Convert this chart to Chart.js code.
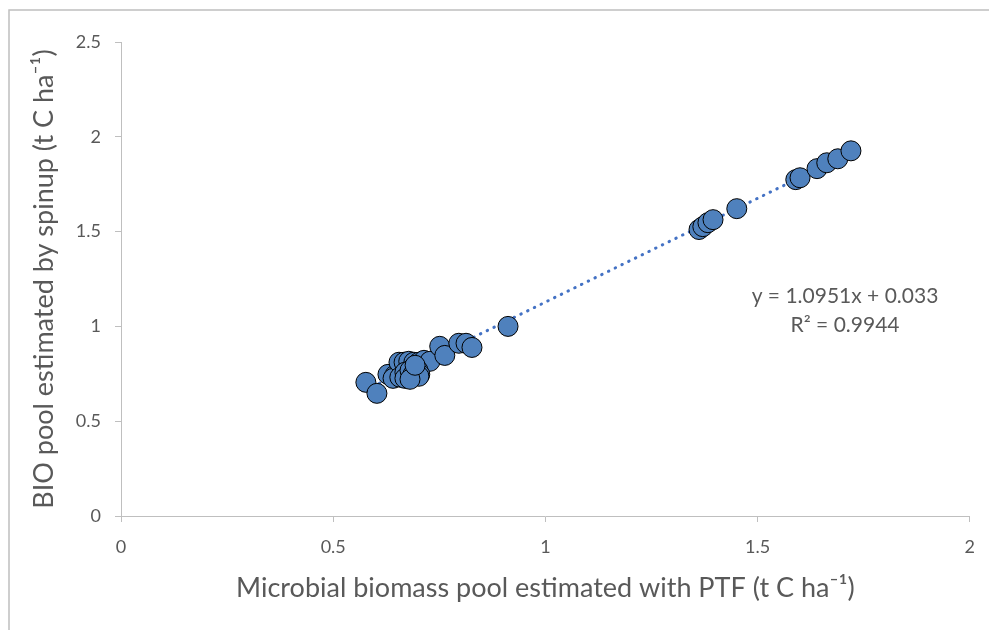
<!DOCTYPE html>
<html>
<head>
<meta charset="utf-8">
<script src="https://cdn.jsdelivr.net/npm/chart.js@4/dist/chart.umd.min.js"></script>
<style>
  html, body { margin: 0; padding: 0; background: #fff; }
  #wrap { width: 989px; height: 630px; position: relative; }
</style>
</head>
<body>
<div id="wrap"><canvas id="bioChart" width="989" height="630"></canvas></div>
<script>
// microbial biomass from PTF (x) vs BIO pool from spinup (y), t C ha-1
const ptfValues = [
    0.577, 0.603, 0.629, 0.645, 0.641, 0.655, 0.667, 0.678, 0.690, 0.702,
    0.714, 0.728, 0.657, 0.669, 0.669, 0.681, 0.688, 0.700, 0.704, 0.702,
    0.681, 0.693, 0.751, 0.763, 0.796, 0.813, 0.827, 0.912,
    1.362, 1.371, 1.383, 1.395, 1.451, 1.590, 1.600, 1.640, 1.663, 1.689, 1.720
];
const spinupValues = [
    0.705, 0.647, 0.747, 0.742, 0.726, 0.811, 0.811, 0.816, 0.811, 0.811,
    0.821, 0.816, 0.732, 0.758, 0.726, 0.768, 0.747, 0.768, 0.747, 0.737,
    0.721, 0.795, 0.895, 0.847, 0.911, 0.911, 0.889, 1.000,
    1.511, 1.526, 1.547, 1.563, 1.621, 1.774, 1.784, 1.832, 1.863, 1.884, 1.926
];
const xTicks = [0, 0.5, 1, 1.5, 2];
const yTicks = [0, 0.5, 1, 1.5, 2, 2.5];

// linear trendline
const slope = 1.0951;
const intercept = 0.033;
const rSquared = 0.9944;

const points = ptfValues.map((x, i) => ({ x: x, y: spinupValues[i] }));
const xMin = Math.min(...ptfValues);
const xMax = Math.max(...ptfValues);
const trend = [
    { x: xMin, y: slope * xMin + intercept },
    { x: xMax, y: slope * xMax + intercept }
];

const fontFamily = "Lato, 'Open Sans', sans-serif";
const textColor = "#595959";
const axisColor = "#bfbfbf";

// outer frame + regression label
const extrasPlugin = {
    id: "extras",
    beforeDraw: function (chart) {
        const ctx = chart.ctx;
        ctx.save();
        ctx.fillStyle = "#fff";
        ctx.fillRect(0, 0, chart.width, chart.height);
        ctx.strokeStyle = "#bfbfbf";
        ctx.lineWidth = 1.5;
        ctx.strokeRect(9, 10, chart.width + 20, chart.height + 20);
        ctx.restore();
    },
    afterDraw: function (chart) {
        const ctx = chart.ctx;
        const xs = chart.scales.x, ys = chart.scales.y;
        ctx.save();
        ctx.fillStyle = textColor;
        ctx.font = "21px " + fontFamily;
        ctx.textAlign = "center";
        ctx.textBaseline = "middle";
        const cx = xs.getPixelForValue(1.706);
        ctx.fillText("y = " + slope.toFixed(4) + "x + " + intercept.toFixed(3), cx, ys.getPixelForValue(1.157));
        ctx.fillText("R\u00B2 = " + rSquared.toFixed(4), cx, ys.getPixelForValue(1.004));
        ctx.restore();
    }
};

new Chart(document.getElementById("bioChart"), {
    type: "scatter",
    data: {
        datasets: [
            {
                label: "Trendline",
                type: "line",
                data: trend,
                borderColor: "#4472c4",
                borderWidth: 3,
                borderDash: [0.5, 7],
                borderCapStyle: "round",
                pointRadius: 0,
                fill: false,
                order: 2
            },
            {
                label: "BIO",
                data: points,
                backgroundColor: "#4f81bd",
                borderColor: "#000",
                borderWidth: 1,
                pointRadius: 10,
                pointHoverRadius: 10,
                order: 1
            }
        ]
    },
    options: {
        responsive: false,
        animation: false,
        layout: { padding: { left: 0, right: 11, top: 42, bottom: 0 } },
        plugins: {
            legend: { display: false },
            tooltip: { enabled: false }
        },
        scales: {
            x: {
                type: "linear",
                min: 0,
                max: 2,
                afterBuildTicks: (s) => { s.ticks = xTicks.map(v => ({ value: v })); },
                afterFit: (s) => { s.height = 114; },
                border: { color: axisColor, width: 1 },
                grid: { drawOnChartArea: false, drawTicks: true, tickLength: 6, color: axisColor },
                ticks: {
                    color: textColor,
                    font: { family: fontFamily, size: 18 },
                    padding: 14,
                    callback: (v) => String(v)
                },
                title: {
                    display: true,
                    text: "Microbial biomass pool estimated with PTF (t C ha\u207B\u00B9)",
                    color: textColor,
                    font: { family: fontFamily, size: 27 },
                    padding: { top: 0, bottom: 26 }
                }
            },
            y: {
                type: "linear",
                min: 0,
                max: 2.5,
                afterBuildTicks: (s) => { s.ticks = yTicks.map(v => ({ value: v })); },
                afterFit: (s) => { s.width = 121; },
                border: { color: axisColor, width: 1 },
                grid: { drawOnChartArea: false, drawTicks: true, tickLength: 6, color: axisColor },
                ticks: {
                    color: textColor,
                    font: { family: fontFamily, size: 18 },
                    padding: 14,
                    callback: (v) => String(v)
                },
                title: {
                    display: true,
                    text: "BIO pool estimated by spinup (t C ha\u207B\u00B9)",
                    color: textColor,
                    font: { family: fontFamily, size: 27 },
                    padding: { top: 28, bottom: 0 }
                }
            }
        }
    },
    plugins: [extrasPlugin]
});
</script>
</body>
</html>
